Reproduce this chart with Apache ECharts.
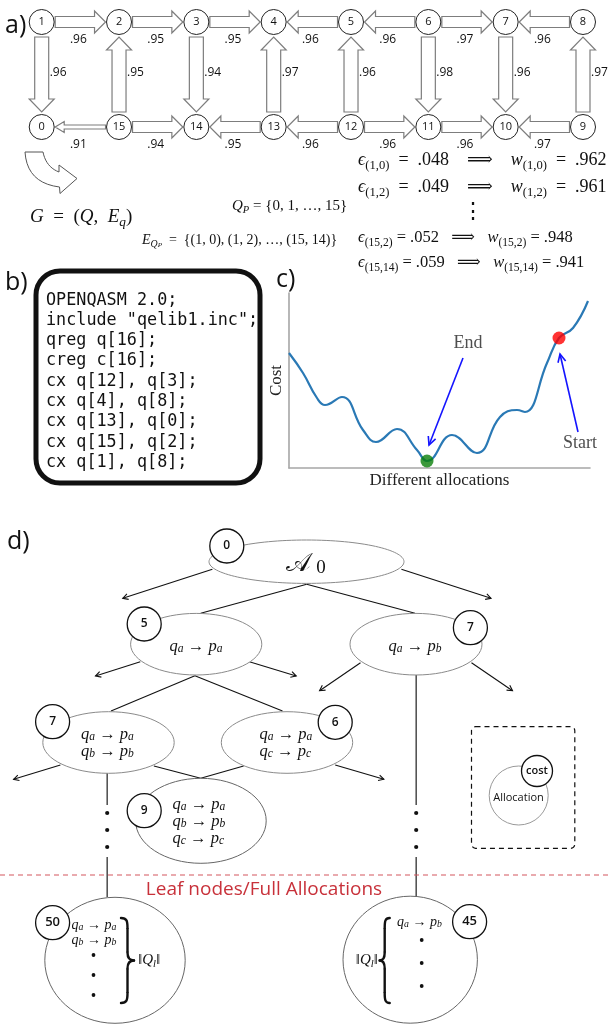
<!DOCTYPE html>
<html>
<head>
<meta charset="utf-8">
<script src="https://cdn.jsdelivr.net/npm/echarts@6/dist/echarts.min.js"></script>
<style>
  html, body { margin: 0; padding: 0; background: #fff; }
  #chart { width: 608px; height: 1026px; }
</style>
</head>
<body>
<div id="chart"></div>
<script>
// ---------- data ----------
const qubits = [0, 1, 2, 3, 4, 5, 6, 7, 8, 9, 10, 11, 12, 13, 14, 15];
// [from, to, weight]
const couplings = [
  [1, 2, .96], [2, 3, .95], [3, 4, .95], [5, 4, .96], [6, 5, .96], [6, 7, .97], [8, 7, .96],
  [1, 0, .96], [15, 2, .95], [3, 14, .94], [13, 4, .97], [12, 5, .96], [6, 11, .98], [7, 10, .96], [9, 8, .97],
  [15, 0, .91], [15, 14, .94], [13, 14, .95], [12, 13, .96], [12, 11, .96], [11, 10, .96], [9, 10, .97]
];
// [edge, error, weight]
const errorRates = [['1,0', .048, .962], ['1,2', .049, .961], ['15,2', .052, .948], ['15,14', .059, .941]];

const qasmLines = [
  'OPENQASM 2.0;',
  'include "qelib1.inc";',
  'qreg q[16];',
  'creg c[16];',
  'cx q[12], q[3];',
  'cx q[4], q[8];',
  'cx q[13], q[0];',
  'cx q[15], q[2];',
  'cx q[1], q[8];'
];

// cost landscape
const allocX    = [0, 14, 28, 36, 53, 74, 87, 108, 128, 138, 163, 188, 211, 228, 236, 258, 270, 284, 299];
const allocCost = [115, 95, 70, 63, 71, 38, 26, 39, 18, 7, 33, 15, 51, 58, 56, 105, 130, 140, 167];
const endAlloc = [138, 7];
const startAlloc = [270, 130];

// search tree
const treeCost = [0, 5, 7, 7, 6, 9, 50, 45];
const treeMap = [
  [],
  ['q_a → p_a'],
  ['q_a → p_b'],
  ['q_a → p_a', 'q_b → p_b'],
  ['q_a → p_a', 'q_c → p_c'],
  ['q_a → p_a', 'q_b → p_b', 'q_c → p_c'],
  ['q_a → p_a', 'q_b → p_b'],
  ['q_a → p_b']
];

// ---------- layout ----------
const qubitCol = [0, 0, 1, 2, 3, 4, 5, 6, 7, 7, 6, 5, 4, 3, 2, 1];
const qubitRow = [1, 0, 0, 0, 0, 0, 0, 0, 0, 1, 1, 1, 1, 1, 1, 1];

const treeBox = [
  { cx: 306.5, cy: 561.7, rx: 97.5, ry: 21.7, bx: 226.8, by: 546 },
  { cx: 196.2, cy: 644.2, rx: 65.6, ry: 30.8, bx: 144.2, by: 624, tx: 196, ty: 647, al: 'center' },
  { cx: 416, cy: 644.2, rx: 66, ry: 30.8, bx: 470.4, by: 627.7, tx: 415, ty: 647, al: 'center' },
  { cx: 108.5, cy: 742.5, rx: 65.7, ry: 30.8, bx: 52.6, by: 721.7, tx: 81, ty: 743.4, al: 'left' },
  { cx: 287, cy: 742.5, rx: 65.7, ry: 30.8, bx: 335.2, by: 722.3, tx: 259.5, ty: 743.4, al: 'left' },
  { cx: 200.9, cy: 820.8, rx: 65.3, ry: 42.5, bx: 144.2, by: 810.7, tx: 172.5, ty: 821.7, al: 'left' },
  { cx: 115, cy: 960.3, rx: 70.2, ry: 63, bx: 52.6, by: 922.7, tx: 71.5, ty: 932.5, al: 'left', small: true },
  { cx: 410.2, cy: 959.7, rx: 67.2, ry: 63.5, bx: 469.6, by: 921.7, tx: 397, ty: 922, al: 'left', small: true }
];

const FS = 'Liberation Serif, DejaVu Serif, serif';
const SANS = 'Open Sans, Noto Sans, sans-serif';
const MONO = 'DejaVu Sans Mono, Liberation Mono, monospace';

// tiny TeX-ish -> rich text
function tex(s) {
  const ch = Array.from(s);
  const isL = c => /[A-Za-zϵ]/.test(c);
  let out = '', i = 0;
  const tok = (c, t) => { out += '{' + c + '|' + t + '}'; };
  while (i < ch.length) {
    const c = ch[i];
    if (c === '_') {
      let grp = [];
      if (ch[i + 1] === '{') {
        let j = i + 2, depth = 1;
        while (j < ch.length) {
          if (ch[j] === '{') depth++;
          else if (ch[j] === '}') { depth--; if (!depth) break; }
          grp.push(ch[j]); j++;
        }
        i = j + 1;
      } else { grp = [ch[i + 1]]; i += 2; }
      for (let k = 0; k < grp.length; k++) {
        if (grp[k] === '_') { tok('ss', grp[k + 1]); k++; }
        else tok(isL(grp[k]) ? 'si' : 'sr', grp[k]);
      }
      continue;
    }
    if (isL(c)) tok('i', c); else out += c;
    i++;
  }
  return out;
}
function mathRich(f, lh) {
  return {
    i: { fontFamily: FS, fontStyle: 'italic', fontSize: f, lineHeight: lh },
    si: { fontFamily: FS, fontStyle: 'italic', fontSize: f * 0.7, verticalAlign: 'bottom' },
    sr: { fontFamily: FS, fontSize: f * 0.7, verticalAlign: 'bottom' },
    ss: { fontFamily: FS, fontStyle: 'italic', fontSize: f * 0.5, verticalAlign: 'bottom' }
  };
}

const G = [];
function txt(x, y, text, st, z) {
  G.push({ type: 'text', x, y, z: z || 10, style: Object.assign({
    text, fill: '#111', textAlign: 'left', textVerticalAlign: 'middle'
  }, st) });
}
function mathTxt(x, y, s, f, lh, align) {
  txt(x, y, tex(s), { fontFamily: FS, fontSize: f, lineHeight: lh, textAlign: align || 'left', rich: mathRich(f, lh) });
}
function seg(x1, y1, x2, y2, color, w, z) {
  G.push({ type: 'line', z: z || 1, shape: { x1, y1, x2, y2 }, style: { stroke: color || '#111', lineWidth: w || 1.1 } });
}
function openArrow(x1, y1, x2, y2, color, w, L) {
  seg(x1, y1, x2, y2, color, w);
  const a = Math.atan2(y2 - y1, x2 - x1), l = L || 6;
  G.push({ type: 'polyline', z: 1, shape: { points: [
    [x2 - l * Math.cos(a - 0.5), y2 - l * Math.sin(a - 0.5)], [x2, y2],
    [x2 - l * Math.cos(a + 0.5), y2 - l * Math.sin(a + 0.5)]] },
    style: { stroke: color || '#111', lineWidth: w || 1.1, fill: null } });
}
function dot(x, y, r) {
  G.push({ type: 'circle', z: 3, shape: { cx: x, cy: y, r: r || 2 }, style: { fill: '#111' } });
}
function badge(x, y, label, r, fs) {
  G.push({ type: 'circle', z: 6, shape: { cx: x, cy: y, r: r || 17 }, style: { fill: '#fff', stroke: '#111', lineWidth: 1.3 } });
  txt(x, y, String(label), { fontFamily: SANS, fontSize: fs || 12, fontWeight: 600, textAlign: 'center' }, 7);
}
function brace(x0, y0, y1, w, dir) {
  const xs = x0 + dir * w * 0.5, xt = x0 + dir * w, ym = (y0 + y1) / 2;
  const bz = (x1, y1_, cx1, cy1, cx2, cy2, x2, y2) => G.push({ type: 'bezierCurve', z: 3,
    shape: { x1, y1: y1_, cpx1: cx1, cpy1: cy1, cpx2: cx2, cpy2: cy2, x2, y2 },
    style: { stroke: '#111', lineWidth: 2.4, fill: null, lineCap: 'round' } });
  bz(x0, y0, x0 + dir * w * 0.45, y0, xs, y0 + 3, xs, y0 + 10);
  seg(xs, y0 + 10, xs, ym - 8, '#111', 2.4, 3);
  bz(xs, ym - 8, xs, ym - 2, xs + dir * w * 0.2, ym, xt, ym);
  bz(xt, ym, xs + dir * w * 0.2, ym, xs, ym + 2, xs, ym + 8);
  seg(xs, ym + 8, xs, y1 - 10, '#111', 2.4, 3);
  bz(xs, y1 - 10, xs, y1 - 3, x0 + dir * w * 0.45, y1, x0, y1);
}
const fmtW = w => w.toFixed(3).replace(/0$/, '').replace(/^0/, '');

// ---------- panel labels ----------
txt(5, 26, 'a)', { fontFamily: SANS, fontSize: 25 });
txt(5, 283, 'b)', { fontFamily: SANS, fontSize: 25 });
txt(276, 280, 'c)', { fontFamily: SANS, fontSize: 25 });
txt(7, 542, 'd)', { fontFamily: SANS, fontSize: 25 });

// ---------- panel a: curved arrow + formulas ----------
(function () {
  const qb = (p0, c, p2, t) => [(1 - t) * (1 - t) * p0[0] + 2 * (1 - t) * t * c[0] + t * t * p2[0],
                                (1 - t) * (1 - t) * p0[1] + 2 * (1 - t) * t * c[1] + t * t * p2[1]];
  const pts = [];
  for (let t = 0; t <= 1.0001; t += 0.1) pts.push(qb([43, 152], [46, 167], [59, 172], t));
  pts.push([59, 165], [77, 178.5], [60, 193.5], [59.5, 187]);
  for (let t = 1; t >= -0.0001; t -= 0.1) pts.push(qb([25, 152], [27, 183], [59.5, 187], t));
  G.push({ type: 'polygon', z: 2, shape: { points: pts }, style: { fill: '#fff', stroke: '#555', lineWidth: 1 } });
})();
mathTxt(30, 217, 'G  =  (Q,  E_q)', 19, 24);
mathTxt(232, 206, 'Q_P = {0, 1, …, 15}', 15, 19);
mathTxt(142, 240, 'E_{Q_P}  =  {(1, 0), (1, 2), …, (15, 14)}', 14, 18);
const eqY = [160, 187, 238, 263], eqF = [18, 18, 16.5, 16.5];
errorRates.forEach(([e, eps, w], i) => {
  const sp = i < 2 ? '  ' : ' ';
  mathTxt(358, eqY[i], 'ϵ_{(' + e + ')}' + sp + '=' + sp + fmtW(eps) + sp + '  ⟹  ' + sp + 'w_{(' + e + ')}' + sp + '=' + sp + fmtW(w),
    eqF[i], eqF[i] * 1.3);
});
txt(473, 212, '⋮', { fontFamily: FS, fontSize: 22, textAlign: 'center' });

// ---------- panel b ----------
G.push({ type: 'rect', z: 2, shape: { x: 36, y: 271, width: 224, height: 212, r: 24 },
  style: { fill: '#fff', stroke: '#111', lineWidth: 5 } });
G.push({ type: 'text', x: 46, y: 290, z: 3, style: { text: qasmLines.join('\n'), fontFamily: MONO, fontSize: 16.8,
  lineHeight: 20.3, fill: '#111', textAlign: 'left', textVerticalAlign: 'top' } });

// ---------- panel d: search tree ----------
// connectors
seg(306.7, 584.3, 200.7, 613.3);
seg(306.7, 584.3, 415, 613.3);
seg(194.9, 675.7, 111, 711);
seg(194.9, 675.7, 282.5, 711);
seg(153.9, 766, 200.7, 778.3);
seg(243.6, 766, 200.7, 778.3);
openArrow(212.4, 569.3, 122.8, 598.3);
openArrow(401.4, 569.3, 491, 598.3);
openArrow(140.3, 661.7, 95.5, 676);
openArrow(249.4, 661.7, 296.2, 676);
openArrow(360.5, 662.7, 319.6, 690.7);
openArrow(471.5, 662.7, 512.5, 690.7);
openArrow(60.4, 765, 13.6, 779.3);
openArrow(335.2, 765, 383.9, 779.3);
[[107.2, 773], [416.2, 675]].forEach(([x, y0]) => {
  seg(x, y0, x, 805, '#555', 1.6);
  [813, 830, 847].forEach(y => dot(x, y, 2.1));
  seg(x, 857, x, 897, '#555', 1.6);
});

treeBox.forEach((b, i) => {
  G.push({ type: 'ellipse', z: 2, shape: { cx: b.cx, cy: b.cy, rx: b.rx, ry: b.ry },
    style: { fill: '#fff', stroke: i >= 5 ? '#666' : '#8a8a8a', lineWidth: 1 } });
  if (treeMap[i].length) {
    const f = b.small ? 14 : 16.5, lh = b.small ? 15 : 16.7;
    txt(b.tx, b.ty, treeMap[i].map(tex).join('\n'),
      { fontFamily: FS, fontSize: f, lineHeight: lh, textAlign: b.al, rich: mathRich(f, lh) }, 4);
  }
  badge(b.bx, b.by, treeCost[i], 17, i >= 6 ? 13 : 12);
});
txt(306, 564, '{A|𝒜}{s| 0}', { fontFamily: FS, fontSize: 26, lineHeight: 28, textAlign: 'center',
  rich: { A: { fontFamily: FS, fontSize: 26, lineHeight: 28 }, s: { fontFamily: FS, fontSize: 19, verticalAlign: 'bottom' } } }, 4);

// leaf details
[955, 975, 995].forEach(y => dot(93.5, y, 1.9));
[940, 963, 986].forEach(y => dot(421.7, y, 1.9));
brace(121, 918, 1003, 13, 1);
brace(389.7, 918, 1003, 10, -1);
mathTxt(138, 960, '‖Q_l‖', 15, 19);
mathTxt(378, 960, '‖Q_l‖', 15, 19, 'right');

// legend box
G.push({ type: 'rect', z: 1, shape: { x: 471.5, y: 726.7, width: 103.3, height: 121.6, r: 4 },
  style: { fill: null, stroke: '#111', lineWidth: 1.2, lineDash: [5, 4] } });
G.push({ type: 'circle', z: 2, shape: { cx: 518.7, cy: 795.5, r: 29.5 }, style: { fill: '#fff', stroke: '#999', lineWidth: 1 } });
txt(518.5, 797.5, 'Allocation', { fontFamily: SANS, fontSize: 11, textAlign: 'center' }, 4);
badge(537, 771, 'cost', 15.5, 11);

// leaf separator
G.push({ type: 'line', z: 1, shape: { x1: 0, y1: 875, x2: 608, y2: 875 },
  style: { stroke: '#d4575f', lineWidth: 1.2, lineDash: [5, 4] } });
txt(264, 890, 'Leaf nodes/Full Allocations', { fontFamily: SANS, fontSize: 19, fill: '#c8313a', textAlign: 'center' });

// ---------- chart ----------
const hiddenAxis = { type: 'value', show: false };
const plainAxis = {
  type: 'value',
  axisLine: { show: true, lineStyle: { color: '#a6a6a6', width: 1.6 } },
  axisTick: { show: false }, axisLabel: { show: false }, splitLine: { show: false },
  nameLocation: 'middle', nameTextStyle: { fontFamily: FS, fontSize: 17, color: '#222' }
};

const option = {
  animation: false,
  grid: [
    { left: 41.7, top: 22, width: 541.3, height: 105 },
    { left: 289, top: 293, width: 301, height: 175 }
  ],
  xAxis: [
    Object.assign({ gridIndex: 0, min: 0, max: 7 }, hiddenAxis),
    Object.assign({ gridIndex: 1, min: 0, max: 301, name: 'Different allocations', nameGap: 4 }, plainAxis)
  ],
  yAxis: [
    Object.assign({ gridIndex: 0, min: 0, max: 1, inverse: true }, hiddenAxis),
    Object.assign({ gridIndex: 1, min: 0, max: 175, name: 'Cost', nameGap: 4 }, plainAxis)
  ],
  series: [
    {
      type: 'custom', xAxisIndex: 0, yAxisIndex: 0, z: 1, clip: false, silent: true,
      data: couplings.map(([f, t, w]) => [qubitCol[f], qubitRow[f], qubitCol[t], qubitRow[t], w]),
      renderItem: function (params, api) {
        const p = api.coord([api.value(0), api.value(1)]);
        const q = api.coord([api.value(2), api.value(3)]);
        const w = api.value(4);
        const dx = q[0] - p[0], dy = q[1] - p[1], len = Math.hypot(dx, dy);
        const ux = dx / len, uy = dy / len, vx = -uy, vy = ux;
        const vertical = Math.abs(uy) > 0.5;
        const sz = w < 0.93 ? { s: 2, h: 5.5, L: 9, g: 1.5 }
          : vertical ? { s: 7, h: 12.5, L: 13, g: 3 } : { s: 5.5, h: 11, L: 11, g: 1.5 };
        const r = 12;
        const ax = p[0] + ux * (r + sz.g), ay = p[1] + uy * (r + sz.g);
        const bx = q[0] - ux * (r + sz.g), by = q[1] - uy * (r + sz.g);
        const cx = bx - ux * sz.L, cy = by - uy * sz.L;
        const pts = [
          [ax + vx * sz.s, ay + vy * sz.s], [cx + vx * sz.s, cy + vy * sz.s], [cx + vx * sz.h, cy + vy * sz.h],
          [bx, by], [cx - vx * sz.h, cy - vy * sz.h], [cx - vx * sz.s, cy - vy * sz.s], [ax - vx * sz.s, ay - vy * sz.s]
        ];
        const mx = (p[0] + q[0]) / 2, my = (p[1] + q[1]) / 2;
        const lab = vertical ? { x: mx + 8, y: my - 2, a: 'left' } : { x: mx - 2, y: my + 17.5, a: 'center' };
        return { type: 'group', children: [
          { type: 'polygon', shape: { points: pts }, style: { fill: '#fff', stroke: '#7d7d7d', lineWidth: 1.2 } },
          { type: 'text', x: lab.x, y: lab.y, style: { text: fmtW(w), textAlign: lab.a, textVerticalAlign: 'middle',
            fontFamily: SANS, fontSize: 12, fill: '#111' } }
        ] };
      }
    },
    {
      type: 'scatter', xAxisIndex: 0, yAxisIndex: 0, z: 3, silent: true,
      symbolSize: 25,
      itemStyle: { color: '#fff', borderColor: '#222', borderWidth: 1, opacity: 1 },
      label: { show: true, position: 'inside', formatter: p => p.value[2], color: '#111', fontFamily: SANS, fontSize: 11 },
      data: qubits.map(q => [qubitCol[q], qubitRow[q], q])
    },
    {
      type: 'line', xAxisIndex: 1, yAxisIndex: 1, smooth: 0.45, symbol: 'none', silent: true,
      lineStyle: { color: '#2a79b5', width: 2.2 },
      data: allocX.map((x, i) => [x, allocCost[i]])
    },
    {
      type: 'scatter', xAxisIndex: 1, yAxisIndex: 1, symbolSize: 13, z: 4, silent: true,
      data: [
        { value: endAlloc, itemStyle: { color: '#0a800a' } },
        { value: startAlloc, itemStyle: { color: '#ff0000' } }
      ]
    },
    {
      type: 'custom', xAxisIndex: 1, yAxisIndex: 1, z: 5, clip: false, silent: true,
      data: [[174, 110, 140, 23], [289, 36, 271, 114]],
      renderItem: function (params, api) {
        const a = api.coord([api.value(0), api.value(1)]);
        const b = api.coord([api.value(2), api.value(3)]);
        const ang = Math.atan2(b[1] - a[1], b[0] - a[0]), l = 9;
        const st = { stroke: '#1414ff', lineWidth: 1.6, fill: null };
        return { type: 'group', children: [
          { type: 'line', shape: { x1: a[0], y1: a[1], x2: b[0], y2: b[1] }, style: st },
          { type: 'polyline', shape: { points: [
            [b[0] - l * Math.cos(ang - 0.45), b[1] - l * Math.sin(ang - 0.45)], b,
            [b[0] - l * Math.cos(ang + 0.45), b[1] - l * Math.sin(ang + 0.45)]] }, style: st }
        ] };
      }
    },
    {
      type: 'scatter', xAxisIndex: 1, yAxisIndex: 1, symbolSize: 0, silent: true,
      label: { show: true, position: 'inside', formatter: p => p.value[2], fontFamily: FS, fontSize: 18, color: '#222' },
      data: [[179, 125, 'End'], [291, 25, 'Start']]
    }
  ],
  graphic: { elements: G }
};

const chart = echarts.init(document.getElementById('chart'));
chart.setOption(option);
</script>
</body>
</html>
